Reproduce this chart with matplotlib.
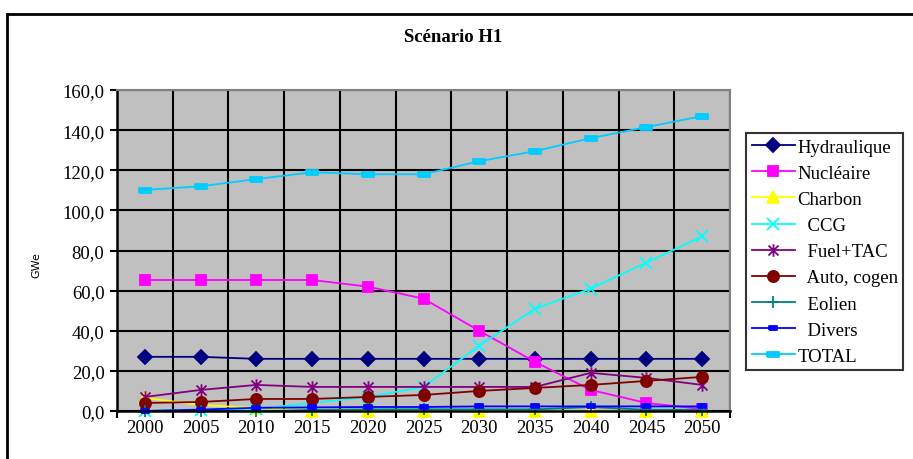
import matplotlib
matplotlib.use('Agg')
import matplotlib.pyplot as plt
from matplotlib.path import Path
from matplotlib.lines import Line2D
from matplotlib.ticker import FuncFormatter

plt.rcParams['font.family'] = ['Liberation Serif', 'DejaVu Serif']

annees = ['2000', '2005', '2010', '2015', '2020', '2025', '2030', '2035', '2040', '2045', '2050']
hydraulique = [27, 27, 26, 26, 26, 26, 26, 26, 26, 26, 26]
nucleaire = [65.3, 65.3, 65.3, 65.3, 62, 56, 40, 24.5, 10.5, 4, 1]
charbon = [6.5, 3, 1.5, 0, 0, 0, 0, 0, 0, 0, 0]
ccg = [0, 0.5, 1, 4, 7, 12, 32.5, 51, 61, 74, 87]
fuel_tac = [7, 10.5, 13, 12, 12, 12, 12, 12, 19, 16.5, 13]
auto_cogen = [4, 4.5, 6, 6, 7, 8, 10, 11.5, 13, 15, 17]
eolien = [0, 0, 0, 0.5, 0.8, 0.8, 0.8, 0.8, 2, 0.6, 0.6]
divers = [0, 0.7, 1.6, 1.8, 2, 2, 2.3, 2.3, 2.3, 2.3, 2.3]
total = [110.2, 112, 115.6, 119, 118, 118, 124.5, 129.5, 136, 141.5, 147]

# marqueurs "Excel"
etoile = Path([(0, -1), (0, 1), (-0.8, -0.8), (0.8, 0.8), (-0.8, 0.8), (0.8, -0.8)],
              [Path.MOVETO, Path.LINETO] * 3)
tiret = [(-1, -0.45), (1, -0.45), (1, 0.45), (-1, 0.45), (-1, -0.45)]

series = [
    ('Hydraulique', hydraulique, '#000080', 'D', 7),
    ('Nucléaire', nucleaire, '#FF00FF', 's', 7),
    ('Charbon', charbon, '#FFFF00', '^', 8),
    ('  CCG', ccg, '#00FFFF', 'x', 8),
    ('  Fuel+TAC', fuel_tac, '#800080', etoile, 9),
    ('  Auto, cogen', auto_cogen, '#800000', 'o', 8),
    ('  Eolien', eolien, '#008080', '+', 9),
    ('  Divers', divers, '#0000FF', tiret, 6),
    ('TOTAL', total, '#00CCFF', tiret, 8),
]

fig = plt.figure(figsize=(9.13, 4.6), dpi=100)
ax = fig.add_axes([117 / 913, 1 - 412 / 460, (730 - 117) / 913, (412 - 91) / 460])
ax.set_facecolor('#C0C0C0')

x = list(range(len(annees)))
for nom, vals, coul, mk, ms in series:
    ax.plot(x, vals, color=coul, marker=mk, markersize=ms, linewidth=1.3,
            markeredgecolor=coul, markerfacecolor=coul, label=nom, clip_on=False,
            markeredgewidth=1.3)

ax.set_xlim(-0.5, len(annees) - 0.5)
ax.set_ylim(0, 160)
ax.set_xticks([i - 0.5 for i in range(len(annees) + 1)])
ax.set_xticklabels([])
ax.set_xticks(x, minor=True)
ax.set_xticklabels(annees, minor=True)
ax.tick_params(axis='x', which='minor', length=0, pad=6, labelsize=13.5)
ax.tick_params(axis='x', which='major', length=5, width=1.5, direction='out')
ax.set_yticks(range(0, 161, 20))
ax.yaxis.set_major_formatter(FuncFormatter(lambda v, p: ('%.1f' % v).replace('.', ',')))
ax.tick_params(axis='y', length=5, width=1.5, direction='out', labelsize=13.5, pad=4)
ax.grid(True, which='major', color='black', linewidth=1.5)
ax.set_axisbelow(True)
for s in ['top', 'right']:
    ax.spines[s].set_color('#808080')
    ax.spines[s].set_linewidth(1.5)
for s in ['left', 'bottom']:
    ax.spines[s].set_color('black')
    ax.spines[s].set_linewidth(1.8)

fig.text(453 / 913, 1 - 37 / 460, 'Scénario H1', ha='center', va='center',
         fontsize=13.5, fontweight='bold')
fig.text(36 / 913, 1 - 265 / 460, 'GWe', rotation=90, ha='center', va='center',
         fontsize=8, family='DejaVu Sans')

leg = fig.legend(loc='upper left', bbox_to_anchor=(746 / 913, 1 - 134 / 460),
                 bbox_transform=fig.transFigure, fontsize=13.5, frameon=True,
                 fancybox=False, edgecolor='black', handlelength=2.3,
                 handletextpad=0.15, labelspacing=0.48, borderpad=0.3,
                 borderaxespad=0)
leg.get_frame().set_linewidth(1.5)

# cadre du graphique
fig.add_artist(Line2D([7 / 913, 1], [1 - 15 / 460, 1 - 15 / 460], color='black', linewidth=2,
                      transform=fig.transFigure))
fig.add_artist(Line2D([7 / 913, 7 / 913], [0, 1 - 15 / 460], color='black', linewidth=2,
                      transform=fig.transFigure))

fig.savefig('out.png', dpi=100)
